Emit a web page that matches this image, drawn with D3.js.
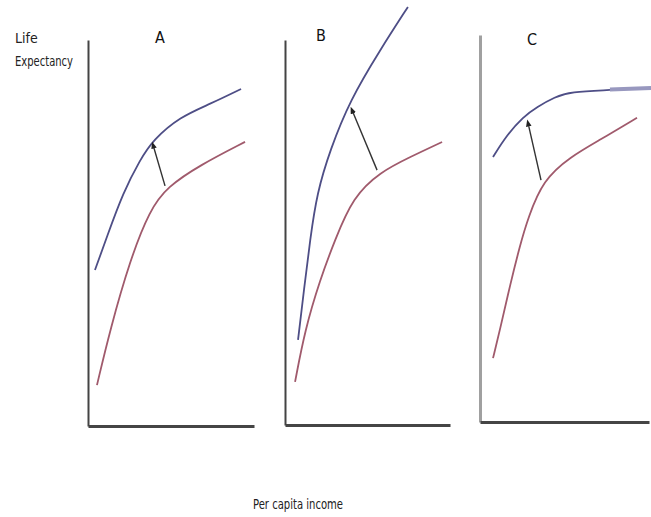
<!DOCTYPE html>
<html><head><meta charset="utf-8">
<script src="https://cdn.jsdelivr.net/npm/d3@7"></script>
<style>html,body{margin:0;padding:0;background:#fff;}svg{display:block;}</style>
</head><body>
<svg id="chart" width="651" height="517"></svg>
<script>
// Data: income (0-100) vs life expectancy (0-100), arbitrary units
const panelNames = ["A", "B", "C"];
const blueA = [[4.2,40.4],[11.4,49.0],[21.1,60.4],[31.3,68.9],[39.2,74.1],[55.4,80.1],[73.5,83.4],[92.2,87.3]];
const redA  = [[5.4,10.6],[13.3,24.9],[25.3,43.0],[37.3,56.0],[47.6,61.9],[67.5,67.6],[94.6,73.6]];
const arrowA = [[46.4,62.2],[39.2,72.8]];
const blueB = [[7.9,22.1],[11.5,35.1],[15.2,48.1],[19.4,60.3],[27.3,71.4],[39.4,84.4],[57.6,97.4],[74.5,108.6]];
const redB  = [[6.1,11.2],[12.1,24.7],[21.2,37.7],[30.3,48.1],[41.2,59.2],[57.6,65.7],[75.8,69.6],[95.2,73.5]];
const arrowB = [[55.8,66.2],[40.6,81.8]];
const blueC = [[7.7,68.5],[16.0,74.2],[25.4,78.8],[33.7,81.4],[44.4,84.0],[53.3,85.3],[76.9,85.8]];
const blueCTail = [[76.9,85.9],[101.2,86.3]];
const redC  = [[7.7,16.5],[11.8,23.8],[17.8,35.4],[23.7,45.7],[28.4,52.7],[37.3,62.5],[53.3,68.5],[71.0,72.9],[92.9,78.6]];
const arrowC = [[36.1,62.5],[28.4,77.3]];
const yLabelLines = ["Life", "Expectancy"];
const xLabel = "Per capita income";

const panels = [
  {name: panelNames[0], x0: 88, x1: 254, y0: 426, y1: 40, blue: blueA, red: redA, arrow: arrowA, yAxisColor: "#444", titleX: 160, titleY: 43},
  {name: panelNames[1], x0: 285, x1: 450, y0: 425, y1: 40, blue: blueB, red: redB, arrow: arrowB, yAxisColor: "#444", titleX: 321, titleY: 41},
  {name: panelNames[2], x0: 480, x1: 649, y0: 422, y1: 35, blue: blueC, red: redC, arrow: arrowC, tail: blueCTail, yAxisColor: "#a0a0a0", titleX: 532, titleY: 45}
];

const svg = d3.select("#chart");
const BLUE = "#4e4e86", RED = "#a05a6c";
const FONT = "'Liberation Sans Narrow','DejaVu Sans Condensed','Liberation Sans',sans-serif";

svg.append("defs").append("marker")
  .attr("id", "ah").attr("viewBox", "0 0 10 10").attr("refX", 5).attr("refY", 5)
  .attr("markerWidth", 5).attr("markerHeight", 5).attr("orient", "auto")
  .append("path").attr("d", "M0,1 L10,5 L0,9 Z").attr("fill", "#222");

panels.forEach(p => {
  const x = d3.scaleLinear().domain([0, 100]).range([p.x0, p.x1]);
  const y = d3.scaleLinear().domain([0, 100]).range([p.y0, p.y1]);
  const g = svg.append("g");

  // y axis
  const ya = g.append("g").attr("transform", `translate(${p.x0},0)`)
    .call(d3.axisLeft(y).ticks(0).tickSize(0).tickSizeOuter(0));
  ya.selectAll("text").remove();
  ya.select(".domain").attr("stroke", p.yAxisColor).attr("stroke-width", p.name === "C" ? 3 : 2);

  // x axis
  const xa = g.append("g").attr("transform", `translate(0,${p.y0})`)
    .call(d3.axisBottom(x).ticks(0).tickSize(0).tickSizeOuter(0));
  xa.selectAll("text").remove();
  xa.select(".domain").attr("stroke", "#454545").attr("stroke-width", 3);

  const line = d3.line().x(d => x(d[0])).y(d => y(d[1])).curve(d3.curveBasis);

  g.append("path").datum(p.red).attr("d", line)
    .attr("fill", "none").attr("stroke", RED).attr("stroke-width", 1.8);
  g.append("path").datum(p.blue).attr("d", line)
    .attr("fill", "none").attr("stroke", BLUE).attr("stroke-width", 1.8);
  if (p.tail) {
    g.append("path").datum(p.tail).attr("d", line)
      .attr("fill", "none").attr("stroke", "#9898bf").attr("stroke-width", 4);
  }
  g.append("path").datum(p.arrow).attr("d", d3.line().x(d => x(d[0])).y(d => y(d[1])))
    .attr("fill", "none").attr("stroke", "#333").attr("stroke-width", 1.4)
    .attr("marker-end", "url(#ah)");

  g.append("text").attr("x", p.titleX).attr("y", p.titleY)
    .attr("text-anchor", "middle").attr("font-family", FONT).attr("font-size", 16)
    .attr("fill", "#111").text(p.name);
});

svg.append("text").attr("x", 15).attr("y", 43).attr("font-family", FONT)
  .attr("font-size", 14).attr("fill", "#222").text(yLabelLines[0]);
svg.append("text").attr("x", 15).attr("y", 66).attr("font-family", FONT)
  .attr("font-size", 14).attr("fill", "#222")
  .attr("textLength", 58).attr("lengthAdjust", "spacingAndGlyphs").text(yLabelLines[1]);
svg.append("text").attr("x", 253).attr("y", 509).attr("font-family", FONT)
  .attr("font-size", 14).attr("fill", "#222")
  .attr("textLength", 90).attr("lengthAdjust", "spacingAndGlyphs").text(xLabel);
</script>
</body></html>
